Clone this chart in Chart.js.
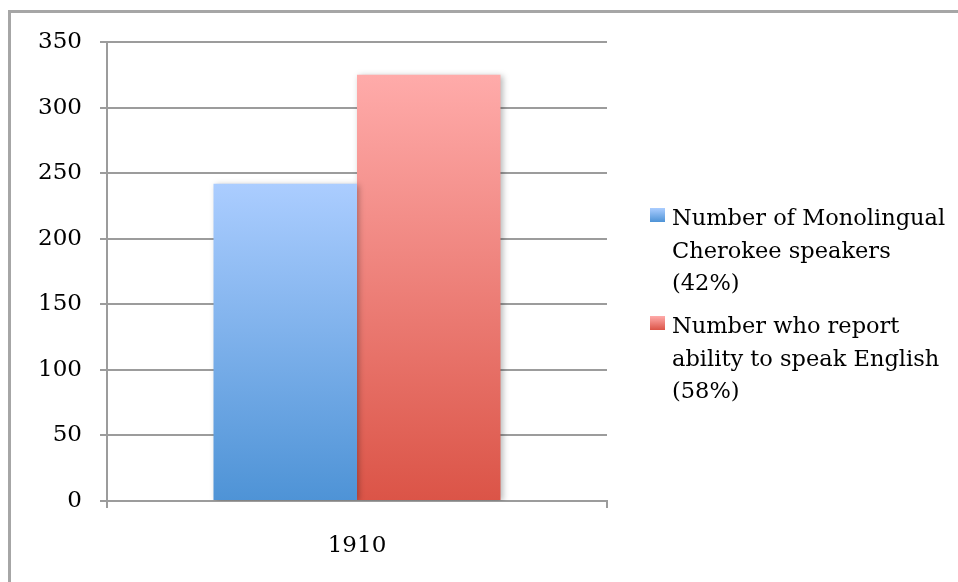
<!DOCTYPE html>
<html>
<head>
<meta charset="utf-8">
<script src="https://cdn.jsdelivr.net/npm/chart.js@4/dist/chart.umd.min.js"></script>
<style>
  html, body { margin: 0; padding: 0; background: #fff; }
  #wrap { position: relative; width: 958px; height: 582px; overflow: hidden; }
  #frame {
    position: absolute; left: 8px; top: 10px; width: 1000px; height: 700px;
    border-top: 3px solid #a6a6a6; border-left: 3px solid #a6a6a6;
    box-sizing: border-box; pointer-events: none;
  }
  canvas { position: absolute; left: 0; top: 0; }
</style>
</head>
<body>
<div id="wrap">
  <div id="frame"></div>
  <canvas id="cherokeeChart" width="958" height="582"></canvas>
</div>
<script>
  const years = ["1910"];
  const monolingual = [242];
  const speakEnglish = [325];
  const yTicks = [0, 50, 100, 150, 200, 250, 300, 350];
  const legendLines = [
    ["Number of Monolingual", "Cherokee speakers", "(42%)"],
    ["Number who report", "ability to speak English", "(58%)"],
  ];

  const FONT = "'DejaVu Serif', 'Liberation Serif', serif";
  const gridColor = "#9c9c9c";
  const shades = [
    { top: "#abcdff", bottom: "#4e93d6" },
    { top: "#ffabaa", bottom: "#db5447" },
  ];

  function barGradient(ctx, idx) {
    const chart = ctx.chart;
    const area = chart.chartArea;
    if (!area || ctx.parsed == null) return shades[idx].bottom;
    const y = chart.scales.y;
    const top = y.getPixelForValue(ctx.parsed.y);
    const base = y.getPixelForValue(0);
    const g = chart.ctx.createLinearGradient(0, top, 0, base);
    g.addColorStop(0, shades[idx].top);
    g.addColorStop(1, shades[idx].bottom);
    return g;
  }

  // soft shadow under the bars
  const barShadow = {
    id: "barShadow",
    beforeDatasetsDraw(chart) {
      const c = chart.ctx;
      c.save();
      c.shadowColor = "rgba(0,0,0,0.28)";
      c.shadowBlur = 6;
      c.shadowOffsetX = 2;
      c.shadowOffsetY = 1;
    },
    afterDatasetsDraw(chart) {
      chart.ctx.restore();
    },
  };

  // legend with wrapped lines to the right of the plot
  const sideLegend = {
    id: "sideLegend",
    afterDraw(chart) {
      const c = chart.ctx;
      const area = chart.chartArea;
      const boxX = area.right + 43;
      const textX = area.right + 65;
      const lineH = 32.5;
      const firstBase = [225, 333];
      c.save();
      c.font = "22.5px " + FONT;
      c.fillStyle = "#000";
      c.textBaseline = "alphabetic";
      c.textAlign = "left";
      legendLines.forEach((lines, i) => {
        const b = firstBase[i];
        const g = c.createLinearGradient(0, b - 17, 0, b - 3);
        g.addColorStop(0, shades[i].top);
        g.addColorStop(1, shades[i].bottom);
        c.fillStyle = g;
        c.fillRect(boxX, b - 17, 15, 14);
        c.fillStyle = "#000";
        lines.forEach((t, k) => c.fillText(t, textX, b + k * lineH));
      });
      c.restore();
    },
  };

  new Chart(document.getElementById("cherokeeChart"), {
    type: "bar",
    data: {
      labels: years,
      datasets: [
        {
          label: legendLines[0].join(" "),
          data: monolingual,
          backgroundColor: (ctx) => barGradient(ctx, 0),
          borderWidth: 0,
        },
        {
          label: legendLines[1].join(" "),
          data: speakEnglish,
          backgroundColor: (ctx) => barGradient(ctx, 1),
          borderWidth: 0,
        },
      ],
    },
    options: {
      responsive: false,
      animation: false,
      layout: { padding: { top: 42, right: 351, left: 0, bottom: 0 } },
      datasets: { bar: { categoryPercentage: 0.574, barPercentage: 1 } },
      plugins: {
        legend: { display: false },
        tooltip: { enabled: false },
      },
      scales: {
        x: {
          offset: true,
          afterFit: (s) => { s.height = 81; },
          grid: {
            offset: true,
            drawOnChartArea: false,
            drawTicks: true,
            tickLength: 7,
            color: gridColor,
            lineWidth: 2,
          },
          border: { color: gridColor, width: 2 },
          ticks: { color: "#000", padding: 24, font: { family: FONT, size: 23 } },
        },
        y: {
          min: 0,
          max: 350,
          afterFit: (s) => { s.width = 107; },
          afterBuildTicks: (s) => { s.ticks = yTicks.map((v) => ({ value: v })); },
          grid: { color: gridColor, lineWidth: 2, tickLength: 7 },
          border: { color: gridColor, width: 2 },
          ticks: { color: "#000", padding: 18, font: { family: FONT, size: 23 } },
        },
      },
    },
    plugins: [barShadow, sideLegend],
  });
</script>
</body>
</html>
